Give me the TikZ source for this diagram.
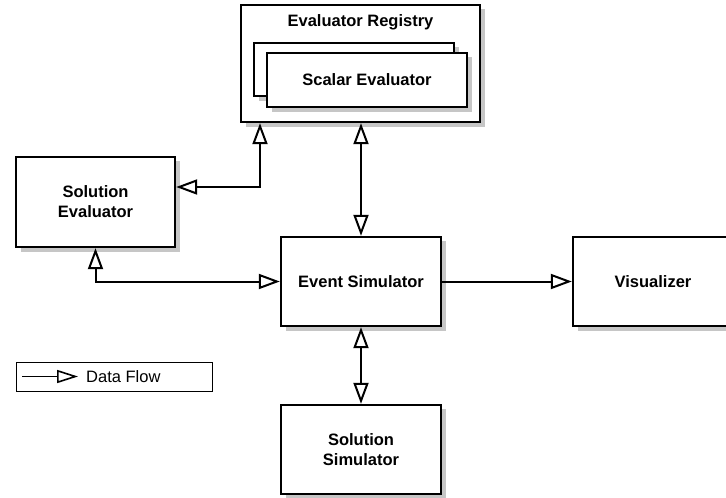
\documentclass[tikz,border=0pt]{standalone}
\usepackage{fontspec}
\setmainfont{Liberation Sans}
\usetikzlibrary{arrows.meta}
\definecolor{shadowgray}{HTML}{C6C6C6}
\begin{document}
\begin{tikzpicture}[x=1pt,y=-1pt,
  box/.style={draw, line width=2.4pt, fill=white,
    align=center, inner sep=0pt,
    font=\bfseries\fontsize{16.5}{20}\selectfont},
  shadowbox/.style={fill=shadowgray},
  boxlabel/.style={inner sep=0pt, font=\bfseries\fontsize{16.5}{20}\selectfont},
  tip/.tip={Triangle[open, length=21pt, width=15pt, line width=2pt]},
  flow/.style={line width=2pt, -tip},
  flowboth/.style={line width=2pt, tip-tip},
  legendflow/.style={line width=1.6pt, -{Triangle[open, length=21pt, width=13pt, line width=1.6pt]}}]
\useasboundingbox (0,0) rectangle (726,498);

% evaluator registry with its stacked evaluator cards
\fill[shadowbox] (246,9) rectangle (485,127);
\node[box, minimum width=239pt, minimum height=117pt] (reg) at (360.5,63.5) {};
\node[boxlabel] (regtitle) at (360.5,22) {Evaluator Registry};
\fill[shadowbox] (259,47) rectangle (459,101);
\node[box, minimum width=200pt, minimum height=53pt] (card) at (354,69.5) {};
\fill[shadowbox] (272,57) rectangle (472,112);
\node[box, minimum width=200pt, minimum height=54pt] (scalar) at (367,80) {Scalar Evaluator};

% components
\fill[shadowbox] (21,161) rectangle (180,252);
\node[box, minimum width=159pt, minimum height=90pt] (sev) at (95.5,202) {Solution\\Evaluator};
\fill[shadowbox] (286,241) rectangle (446,331);
\node[box, minimum width=160pt, minimum height=89pt] (es) at (361,281.5) {Event Simulator};
\fill[shadowbox] (578,241) rectangle (738,331);
\node[box, minimum width=160pt, minimum height=89pt] (vis) at (653,281.5) {Visualizer};
\fill[shadowbox] (286,409) rectangle (446,499);
\node[box, minimum width=160pt, minimum height=89pt] (ss) at (361,449.5) {Solution\\Simulator};

% data flows
\draw[flowboth] ([xshift=-100.5pt]reg.south) |- ([yshift=15pt]sev.east);
\draw[flowboth] (es.north |- reg.south) -- (es.north);
\draw[flowboth] (sev.south) |- (es.west);
\draw[flow] (es.east) -- (vis.west);
\draw[flowboth] (es.south) -- (ss.north);

% legend
\node[draw, line width=1pt, minimum width=196pt, minimum height=29pt, anchor=north west, inner sep=0pt] (legend) at (16,362) {};
\coordinate (legstart) at (22,376.5);
\coordinate (legend) at (78,376.5);
\draw[legendflow] (legstart) -- (legend);
\node[anchor=west, inner sep=0pt, font=\fontsize{16.5}{20}\selectfont] (legtext) at (86,376.5) {Data Flow};
\end{tikzpicture}
\end{document}
